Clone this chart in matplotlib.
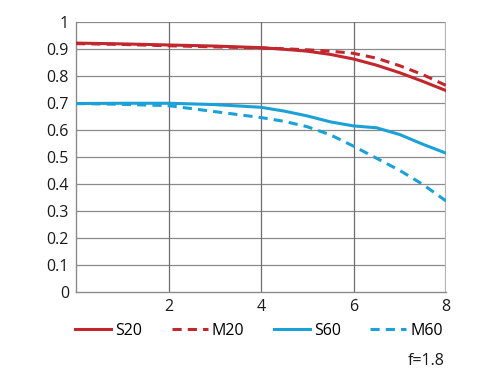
import matplotlib.pyplot as plt
from matplotlib.lines import Line2D

plt.rcParams['font.family'] = ['Open Sans', 'DejaVu Sans']

# --- DATA ---
x_pts = [0, 1, 2, 3, 4, 4.5, 5, 5.5, 6, 6.5, 7, 7.5, 8]
s20 = [0.922, 0.919, 0.915, 0.911, 0.905, 0.899, 0.892, 0.880, 0.863, 0.840, 0.812, 0.780, 0.746]
m20 = [0.920, 0.917, 0.912, 0.908, 0.904, 0.901, 0.897, 0.892, 0.884, 0.866, 0.838, 0.805, 0.765]
s60 = [0.698, 0.699, 0.699, 0.694, 0.684, 0.670, 0.652, 0.630, 0.615, 0.608, 0.583, 0.547, 0.514]
m60 = [0.698, 0.695, 0.690, 0.668, 0.646, 0.632, 0.612, 0.582, 0.540, 0.495, 0.450, 0.398, 0.337]

y_ticks = [0, 0.1, 0.2, 0.3, 0.4, 0.5, 0.6, 0.7, 0.8, 0.9, 1]
y_labels = ['0', '0.1', '0.2', '0.3', '0.4', '0.5', '0.6', '0.7', '0.8', '0.9', '1']
x_ticks = [2, 4, 6, 8]
x_labels = ['2', '4', '6', '8']

RED = '#c1272d'
BLUE = '#1ba1d8'

fig = plt.figure(figsize=(5, 3.8), dpi=100)
ax = fig.add_axes([0.152, 0.232, 0.74, 0.71])

# grid
for yv in y_ticks[1:]:
    ax.axhline(yv, color='#8a8a8a', lw=0.9, zorder=1)
for xv in x_ticks[:-1]:
    ax.axvline(xv, color='#6e6e6e', lw=0.9, zorder=1)
ax.axvline(8, color='#b5b5b5', lw=1.6, zorder=1)

ax.plot(x_pts, s20, color=RED, lw=2.2, zorder=3)
ax.plot(x_pts, m20, color=RED, lw=2.2, ls=(0, (3, 2)), zorder=3)
ax.plot(x_pts, s60, color=BLUE, lw=2.2, zorder=3)
ax.plot(x_pts, m60, color=BLUE, lw=2.2, ls=(0, (3, 2)), zorder=3)

ax.set_xlim(0, 8)
ax.set_ylim(0, 1)
ax.set_yticks(y_ticks)
ax.set_yticklabels(y_labels)
ax.set_xticks(x_ticks)
ax.set_xticklabels(x_labels)
ax.tick_params(length=0, labelsize=11.5, colors='#1a1a1a', pad=5)
for side in ['top', 'right']:
    ax.spines[side].set_visible(False)
for side in ['left', 'bottom']:
    ax.spines[side].set_color('#8a8a8a')
    ax.spines[side].set_linewidth(1.0)

handles = [
    Line2D([], [], color=RED, lw=2.2),
    Line2D([], [], color=RED, lw=2.2, ls=(0, (3, 2))),
    Line2D([], [], color=BLUE, lw=2.2),
    Line2D([], [], color=BLUE, lw=2.2, ls=(0, (3, 2))),
]
fig.legend(handles, ['S20', 'M20', 'S60', 'M60'], ncol=4, loc='center',
           bbox_to_anchor=(0.518, 0.13), frameon=False, fontsize=11.5,
           handlelength=2.25, handletextpad=0.25, columnspacing=1.85)

fig.text(0.89, 0.05, 'f=1.8', ha='right', va='center', fontsize=11.5, color='#1a1a1a')

fig.savefig('out.png', dpi=100)
